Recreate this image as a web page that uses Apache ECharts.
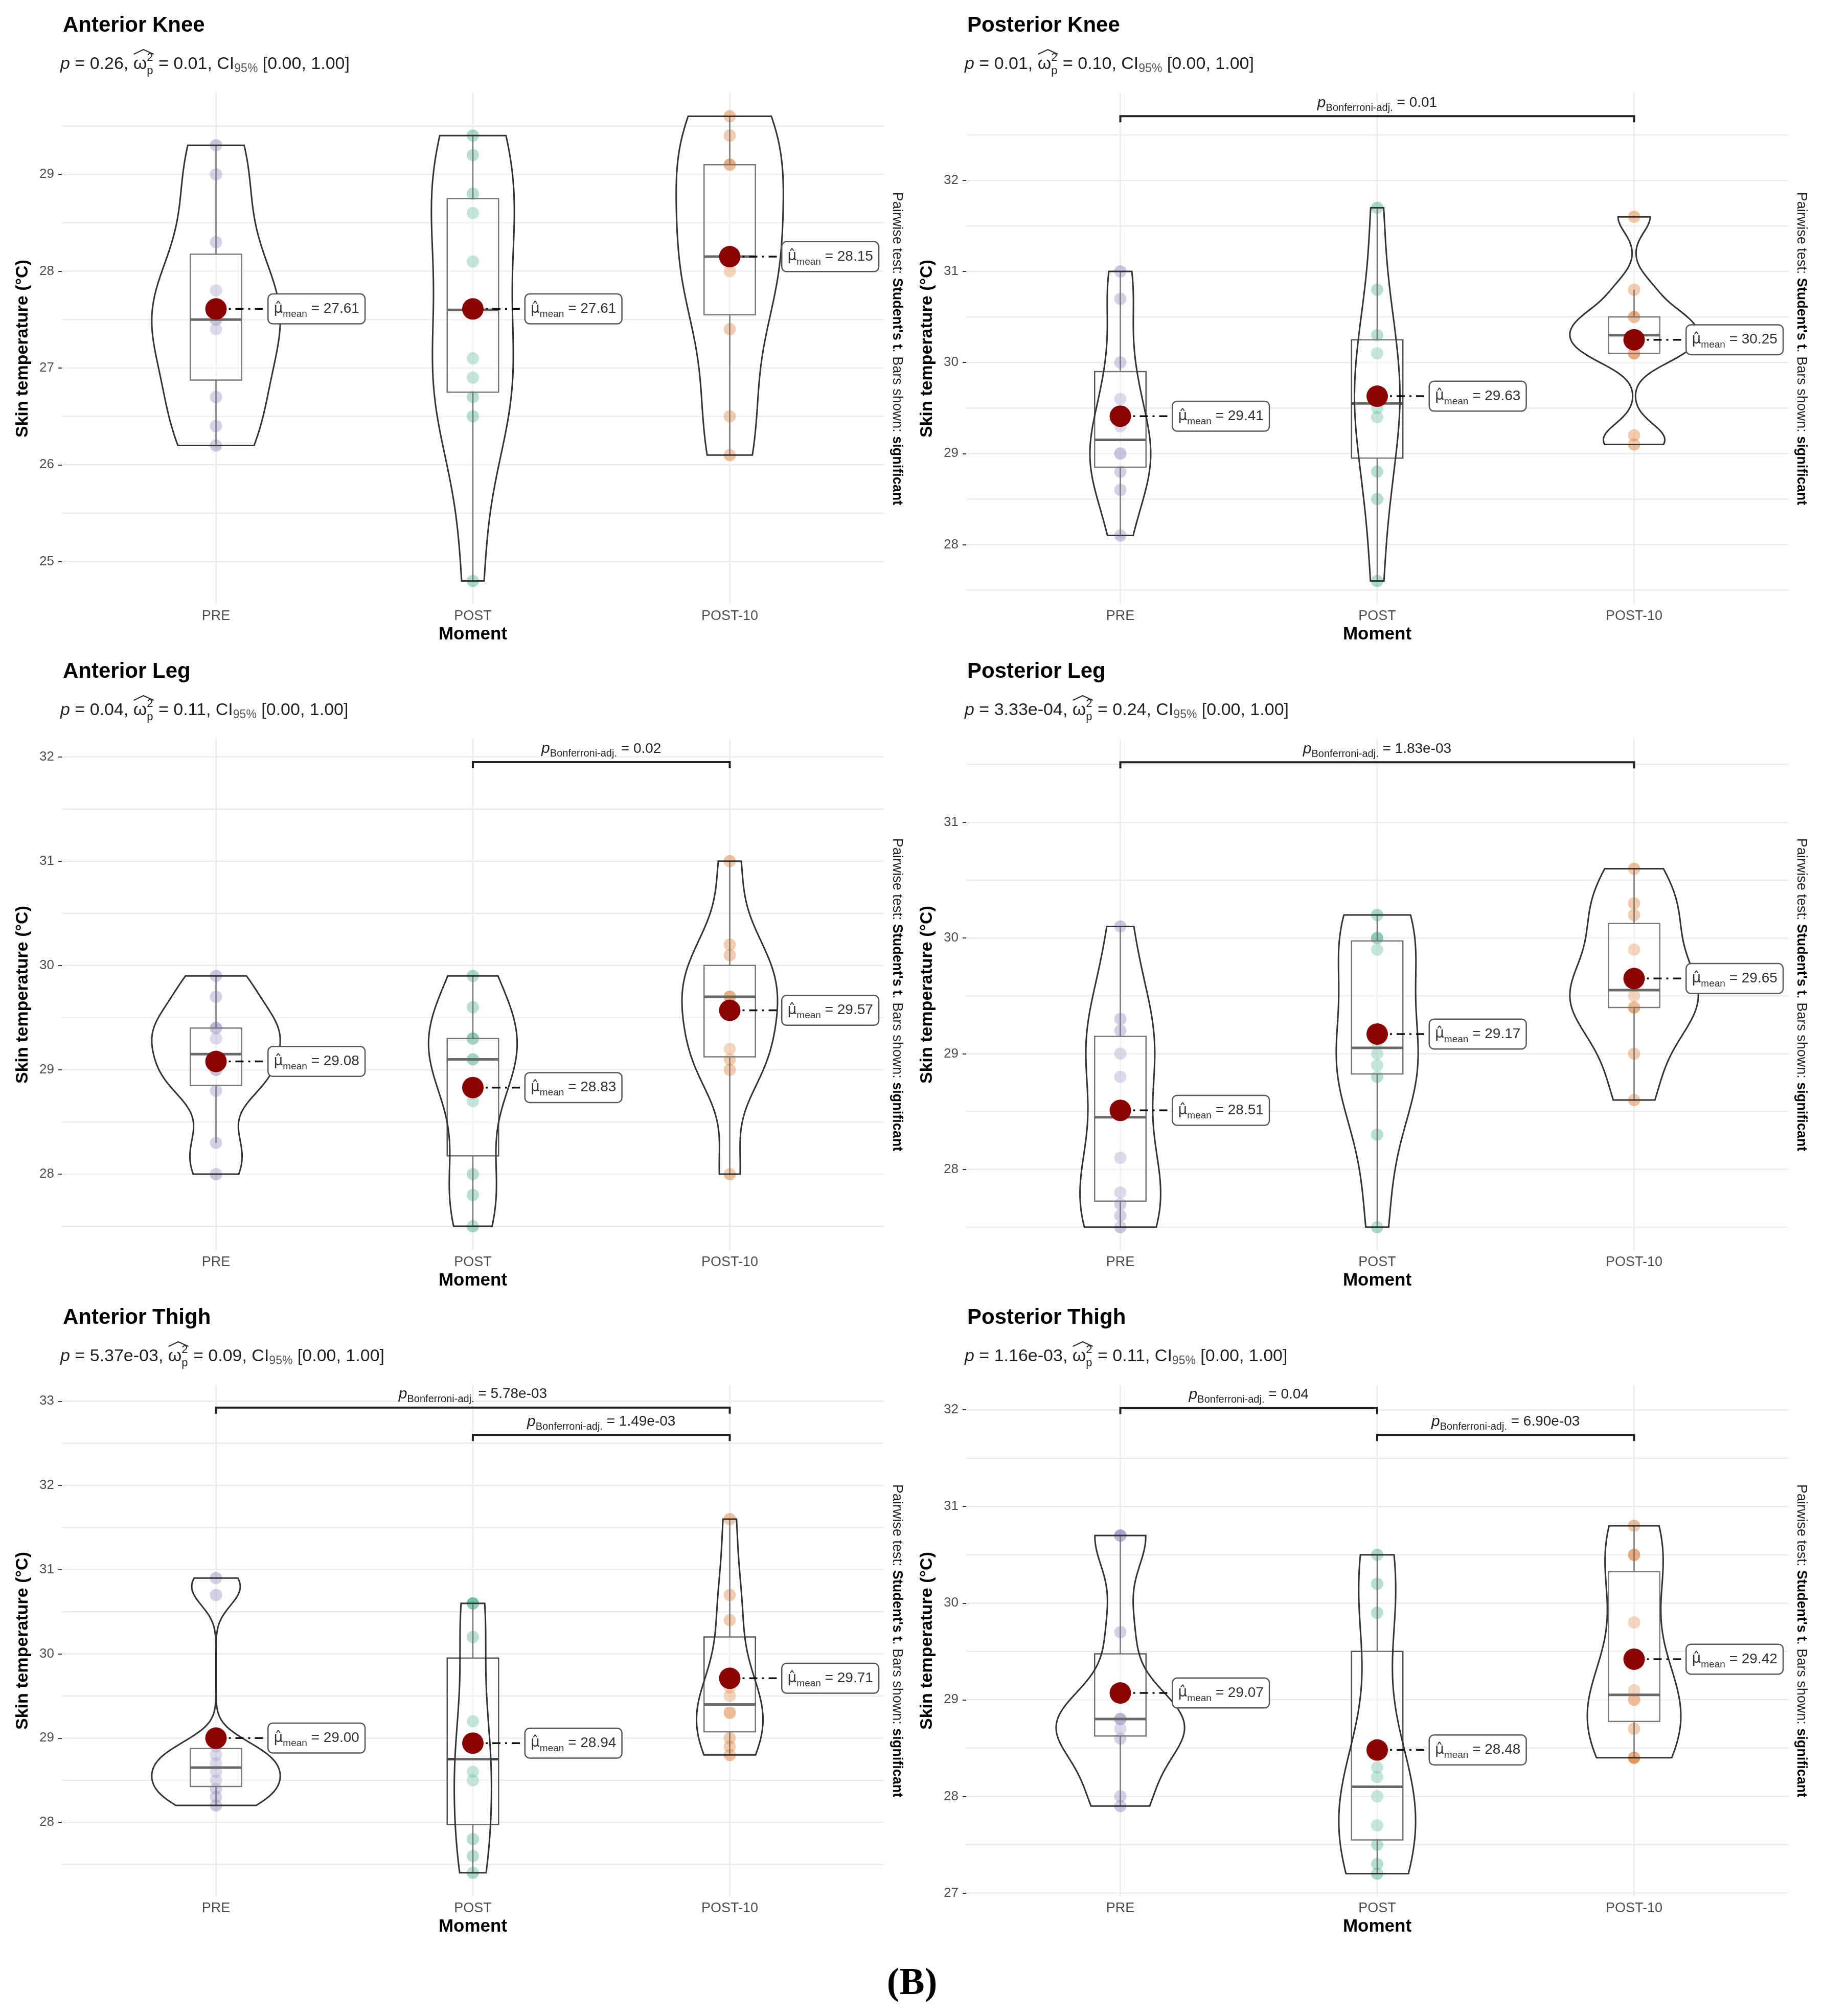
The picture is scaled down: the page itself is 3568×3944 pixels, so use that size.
<!DOCTYPE html>
<html><head><meta charset="utf-8">
<script src="https://cdn.jsdelivr.net/npm/echarts@6/dist/echarts.min.js"></script>
<style>html,body{margin:0;padding:0;background:#fff}#c{width:3568px;height:3944px}</style>
</head><body><div id="c"></div><script>
// ---------------- DATA ----------------
const categories = ['PRE', 'POST', 'POST-10'];
const panelTitles = ['Anterior Knee', 'Posterior Knee', 'Anterior Leg', 'Posterior Leg', 'Anterior Thigh', 'Posterior Thigh'];
const pValues = ['0.26', '0.01', '0.04', '3.33e-04', '5.37e-03', '1.16e-03'];
const omegaValues = ['0.01', '0.10', '0.11', '0.24', '0.09', '0.11'];
const ciText = '[0.00, 1.00]';

const antKneePre    = [26.2, 26.4, 26.7, 27.4, 27.5, 27.5, 27.8, 28.3, 29.0, 29.3];
const antKneePost   = [24.8, 26.5, 26.7, 26.9, 27.1, 28.1, 28.6, 28.8, 29.2, 29.4];
const antKneePost10 = [26.1, 26.5, 27.4, 28.0, 28.1, 28.2, 29.1, 29.1, 29.4, 29.6];

const postKneePre    = [28.1, 28.6, 28.8, 29.0, 29.0, 29.3, 29.6, 30.0, 30.7, 31.0];
const postKneePost   = [27.6, 28.5, 28.8, 29.4, 29.5, 29.6, 30.1, 30.3, 30.8, 31.7];
const postKneePost10 = [29.1, 29.2, 30.1, 30.1, 30.3, 30.3, 30.5, 30.5, 30.8, 31.6];

const antLegPre    = [28.0, 28.3, 28.8, 29.0, 29.0, 29.3, 29.4, 29.4, 29.7, 29.9];
const antLegPost   = [27.5, 27.8, 28.0, 28.7, 29.1, 29.1, 29.3, 29.3, 29.6, 29.9];
const antLegPost10 = [28.0, 29.0, 29.1, 29.2, 29.7, 29.7, 29.7, 30.1, 30.2, 31.0];

const postLegPre    = [27.5, 27.6, 27.7, 27.8, 28.1, 28.8, 29.0, 29.2, 29.3, 30.1];
const postLegPost   = [27.5, 28.3, 28.8, 28.9, 29.0, 29.1, 29.9, 30.0, 30.0, 30.2];
const postLegPost10 = [28.6, 29.0, 29.4, 29.4, 29.5, 29.6, 29.9, 30.2, 30.3, 30.6];

const antThighPre    = [28.2, 28.3, 28.4, 28.5, 28.6, 28.7, 28.8, 28.9, 30.7, 30.9];
const antThighPost   = [27.4, 27.6, 27.8, 28.5, 28.6, 28.9, 29.2, 30.2, 30.6, 30.6];
const antThighPost10 = [28.8, 28.9, 29.0, 29.3, 29.3, 29.5, 29.6, 30.4, 30.7, 31.6];

const postThighPre    = [27.9, 28.0, 28.6, 28.7, 28.8, 28.8, 28.8, 29.7, 30.7, 30.7];
const postThighPost   = [27.2, 27.3, 27.5, 27.7, 28.0, 28.2, 28.3, 29.9, 30.2, 30.5];
const postThighPost10 = [28.4, 28.4, 28.7, 29.0, 29.0, 29.1, 29.8, 30.5, 30.5, 30.8];

const yTicks = [
  [25, 26, 27, 28, 29],
  [28, 29, 30, 31, 32],
  [28, 29, 30, 31, 32],
  [28, 29, 30, 31],
  [28, 29, 30, 31, 32, 33],
  [27, 28, 29, 30, 31, 32]
];
const yLimits = [[24.56, 29.84], [27.345, 32.96], [27.27, 32.17], [27.30, 31.72], [27.12, 33.19], [26.965, 32.255]];

const bracketPairs = [[], [[1, 3]], [[2, 3]], [[1, 3]], [[1, 3], [2, 3]], [[1, 2], [2, 3]]];
const bracketP     = [[], ['0.01'], ['0.02'], ['1.83e-03'], ['5.78e-03', '1.49e-03'], ['0.04', '6.90e-03']];
const bracketY     = [[], [32.706], [31.95], [31.52], [32.925, 32.6], [32.02, 31.74]];

// ---------------- LAYOUT / STYLE ----------------
const FONT = '"Liberation Sans", Arial, Helvetica, sans-serif';
const groupColors = ['#7570B3', '#1B9E77', '#D95F02'];
const PANEL_X = [0, 1769];
const ROW_Y = [0, 1264, 2528];
const PLOT = { left: 121, top: 182, width: 1608, height: 1000 };

const panelData = [
  [antKneePre, antKneePost, antKneePost10],
  [postKneePre, postKneePost, postKneePost10],
  [antLegPre, antLegPost, antLegPost10],
  [postLegPre, postLegPost, postLegPost10],
  [antThighPre, antThighPost, antThighPost10],
  [postThighPre, postThighPost, postThighPost10]
];

// ---------------- HELPERS ----------------
const mctx = document.createElement('canvas').getContext('2d');
function tw(text, size, style) { mctx.font = (style || 'normal') + ' normal ' + size + 'px ' + FONT; return mctx.measureText(text).width; }
function q7(s, p) { const h = (s.length - 1) * p; const lo = Math.floor(h); const hi = Math.min(lo + 1, s.length - 1); return s[lo] + (h - lo) * (s[hi] - s[lo]); }
function meanOf(a) { return a.reduce((x, y) => x + y, 0) / a.length; }
function boxStats(a) {
  const s = a.slice().sort((x, y) => x - y);
  const q1 = q7(s, 0.25), med = q7(s, 0.5), q3 = q7(s, 0.75), iqr = q3 - q1;
  const lo = s.find(v => v >= q1 - 1.5 * iqr), hi = s.slice().reverse().find(v => v <= q3 + 1.5 * iqr);
  return [lo, q1, med, q3, hi];
}
function bwNrd0(a) {
  const s = a.slice().sort((x, y) => x - y), n = s.length, m = meanOf(s);
  const sd = Math.sqrt(s.reduce((t, v) => t + (v - m) * (v - m), 0) / (n - 1));
  const iqr = q7(s, 0.75) - q7(s, 0.25);
  let lo = Math.min(sd, iqr / 1.34); if (!lo) lo = sd || 1;
  return 0.9 * lo * Math.pow(n, -0.2);
}
function kde(a) {
  const bw = bwNrd0(a), n = a.length, mn = Math.min(...a), mx = Math.max(...a);
  const ys = [], ds = [], N = 256;
  for (let k = 0; k < N; k++) {
    const y = mn + (mx - mn) * k / (N - 1);
    let d = 0; for (const v of a) { const z = (y - v) / bw; d += Math.exp(-0.5 * z * z); }
    ys.push(y); ds.push(d / (n * bw * Math.sqrt(2 * Math.PI)));
  }
  return { ys, ds };
}
function subtitleEls(x0, yc, p, om) {
  const els = []; let x = x0;
  const put = (t, size, o) => {
    o = o || {};
    els.push({ type: 'text', x: x, y: yc + (o.dy || 0), style: { text: t, fontSize: size, fontStyle: o.italic ? 'italic' : 'normal', fontFamily: FONT, fill: o.fill || '#222', align: 'left', verticalAlign: 'middle' } });
    return tw(t, size, o.italic ? 'italic' : 'normal');
  };
  x += put('p', 34, { italic: true });
  x += put(' = ' + p + ', ', 34);
  const wx = x;
  x += put('ω', 34);
  const sw = Math.max(put('2', 22, { dy: -13 }), put('p', 22, { dy: 13 }));
  x += sw + 1;
  els.push({ type: 'polyline', shape: { points: [[wx + 1, yc - 20], [(wx + x) / 2, yc - 29], [x, yc - 20]] }, style: { stroke: '#333', lineWidth: 2.2, fill: 'none' } });
  x += put(' = ' + om + ', CI', 34);
  x += put('95%', 23, { dy: 9, fill: '#555' });
  put(' ' + ciText, 34);
  return els;
}

// ---------------- BUILD OPTION ----------------
const grids = [], xAxes = [], yAxes = [], series = [], graphics = [];

const meanRich = {
  mu: { fontSize: 28, lineHeight: 40, fontFamily: '"DejaVu Sans", sans-serif', fill: '#333' },
  sub: { fontSize: 19, lineHeight: 20, verticalAlign: 'bottom', fontFamily: FONT, fill: '#333' },
  eq: { fontSize: 28, lineHeight: 40, fontFamily: FONT, fill: '#333' }
};
const brRich = {
  i: { fontSize: 30, lineHeight: 40, fontStyle: 'italic', fontFamily: FONT, fill: '#222' },
  sub: { fontSize: 20, lineHeight: 20, verticalAlign: 'bottom', fontFamily: FONT, fill: '#222' },
  t: { fontSize: 28, lineHeight: 40, fontFamily: FONT, fill: '#222' }
};

panelData.forEach((groups, i) => {
  const px = PANEL_X[i % 2], ry = ROW_Y[Math.floor(i / 2)];
  const lim = yLimits[i];
  grids.push({ left: px + PLOT.left, top: ry + PLOT.top, width: PLOT.width, height: PLOT.height });
  xAxes.push({
    type: 'value', gridIndex: i, min: 0.4, max: 3.6,
    axisLine: { show: false }, splitLine: { show: false }, axisTick: { show: false },
    axisLabel: { customValues: [1, 2, 3], formatter: v => categories[Math.round(v) - 1] || '', fontSize: 27, color: '#4D4D4D', fontFamily: FONT, margin: 10 }
  });
  yAxes.push({
    type: 'value', gridIndex: i, min: lim[0], max: lim[1],
    axisLine: { show: false }, splitLine: { show: false },
    axisTick: { show: true, customValues: yTicks[i], length: 7, lineStyle: { color: '#333', width: 2 } },
    axisLabel: { customValues: yTicks[i], fontSize: 26, color: '#4D4D4D', fontFamily: FONT, margin: 15 }
  });

  // grid lines
  const gl = [];
  for (let v = Math.ceil(lim[0] * 2) / 2; v <= lim[1] + 1e-9; v += 0.5) gl.push([0, v]);
  [1, 2, 3].forEach(x => gl.push([1, x]));
  series.push({
    type: 'custom', xAxisIndex: i, yAxisIndex: i, z: 1, silent: true, data: gl,
    renderItem: (params, api) => {
      const kind = api.value(0), v = api.value(1);
      const a = kind === 0 ? api.coord([0.4, v]) : api.coord([v, lim[1]]);
      const b = kind === 0 ? api.coord([3.6, v]) : api.coord([v, lim[0]]);
      return { type: 'line', shape: { x1: a[0], y1: a[1], x2: b[0], y2: b[1] }, style: { stroke: '#EBEBEB', lineWidth: 2.5 } };
    }
  });

  // raw points
  const pts = [];
  groups.forEach((arr, g) => arr.forEach(v => pts.push({ value: [g + 1, v], itemStyle: { color: groupColors[g], opacity: 0.4 } })));
  series.push({ type: 'scatter', xAxisIndex: i, yAxisIndex: i, z: 2, silent: true, symbolSize: 24, data: pts });

  // boxes
  series.push({
    type: 'custom', xAxisIndex: i, yAxisIndex: i, z: 3, silent: true,
    data: groups.map((arr, g) => [g + 1].concat(boxStats(arr))),
    renderItem: (params, api) => {
      const x = api.value(0), lo = api.value(1), q1 = api.value(2), med = api.value(3), q3 = api.value(4), hi = api.value(5);
      const tl = api.coord([x - 0.1, q3]), br = api.coord([x + 0.1, q1]);
      const mL = api.coord([x - 0.1, med]), mR = api.coord([x + 0.1, med]);
      const c3 = api.coord([x, q3]), cHi = api.coord([x, hi]), c1 = api.coord([x, q1]), cLo = api.coord([x, lo]);
      return { type: 'group', children: [
        { type: 'line', shape: { x1: c3[0], y1: c3[1], x2: cHi[0], y2: cHi[1] }, style: { stroke: '#555', lineWidth: 2.5 } },
        { type: 'line', shape: { x1: c1[0], y1: c1[1], x2: cLo[0], y2: cLo[1] }, style: { stroke: '#555', lineWidth: 2.5 } },
        { type: 'rect', shape: { x: tl[0], y: tl[1], width: br[0] - tl[0], height: br[1] - tl[1] }, style: { fill: 'rgba(255,255,255,0.2)', stroke: '#555', lineWidth: 2.5 } },
        { type: 'line', shape: { x1: mL[0], y1: mL[1], x2: mR[0], y2: mR[1] }, style: { stroke: '#444', lineWidth: 5 } }
      ] };
    }
  });

  // violins (scale = area)
  const dens = groups.map(kde);
  const dmax = Math.max(...dens.map(d => Math.max(...d.ds)));
  series.push({
    type: 'custom', xAxisIndex: i, yAxisIndex: i, z: 4, silent: true,
    data: groups.map((arr, g) => [g + 1, g]),
    renderItem: (params, api) => {
      const xc = api.value(0), d = dens[api.value(1)];
      const L = [], R = [];
      for (let k = 0; k < d.ys.length; k++) {
        const hw = 0.25 * d.ds[k] / dmax;
        L.push(api.coord([xc - hw, d.ys[k]]));
        R.push(api.coord([xc + hw, d.ys[k]]));
      }
      return { type: 'polygon', shape: { points: L.concat(R.reverse()) }, style: { fill: 'rgba(255,255,255,0.2)', stroke: '#333', lineWidth: 3 } };
    }
  });

  // means + labels
  series.push({
    type: 'custom', xAxisIndex: i, yAxisIndex: i, z: 5, silent: true,
    data: groups.map((arr, g) => [g + 1, meanOf(arr)]),
    renderItem: (params, api) => {
      const x = api.value(0), m = api.value(1);
      const c = api.coord([x, m]), l = api.coord([x + 0.205, m]);
      return { type: 'group', children: [
        { type: 'line', shape: { x1: c[0], y1: c[1], x2: l[0], y2: l[1] }, style: { stroke: '#111', lineWidth: 3.5, lineDash: [16, 9, 4, 9] } },
        { type: 'circle', shape: { cx: c[0], cy: c[1], r: 21 }, style: { fill: '#8B0000' } },
        { type: 'text', x: l[0], y: l[1], style: {
          text: '{mu|μ̂}{sub|mean}{eq| = ' + m.toFixed(2) + '}', rich: meanRich,
          align: 'left', verticalAlign: 'middle', backgroundColor: '#fff', borderColor: '#555', borderWidth: 2.5, borderRadius: 8, padding: [8, 10, 8, 10]
        } }
      ] };
    }
  });

  // significance brackets
  if (bracketPairs[i].length) {
    series.push({
      type: 'custom', xAxisIndex: i, yAxisIndex: i, z: 5, silent: true,
      data: bracketPairs[i].map((p, k) => [p[0], p[1], bracketY[i][k], k]),
      renderItem: (params, api) => {
        const x1 = api.value(0), x2 = api.value(1), y = api.value(2), k = api.value(3);
        const tip = 0.012 * (lim[1] - lim[0]);
        const a = api.coord([x1, y]), b = api.coord([x2, y]), a2 = api.coord([x1, y - tip]), b2 = api.coord([x2, y - tip]);
        const mid = api.coord([(x1 + x2) / 2, y]);
        return { type: 'group', children: [
          { type: 'polyline', shape: { points: [a2, a, b, b2] }, style: { stroke: '#222', lineWidth: 4, fill: 'none' } },
          { type: 'text', x: mid[0], y: mid[1] - 6, style: {
            text: '{i|p}{sub|Bonferroni-adj.}{t| = ' + bracketP[i][k] + '}', rich: brRich, align: 'center', verticalAlign: 'bottom'
          } }
        ] };
      }
    });
  }

  // texts
  graphics.push({ type: 'text', x: px + 123, y: ry + 50, style: { text: panelTitles[i], fontSize: 42, fontWeight: 'bold', fontFamily: FONT, fill: '#000', align: 'left', verticalAlign: 'middle' } });
  subtitleEls(px + 118, ry + 126, pValues[i], omegaValues[i]).forEach(e => graphics.push(e));
  graphics.push({ type: 'text', x: px + 45, y: ry + 682, rotation: Math.PI / 2, style: { text: 'Skin temperature (°C)', fontSize: 34, fontWeight: 'bold', fontFamily: FONT, fill: '#000', align: 'center', verticalAlign: 'middle' } });
  graphics.push({ type: 'text', x: px + 925, y: ry + 1241, style: { text: 'Moment', fontSize: 35, fontWeight: 'bold', fontFamily: FONT, fill: '#000', align: 'center', verticalAlign: 'middle' } });
  graphics.push({ type: 'text', x: px + 1754, y: ry + 682, rotation: -Math.PI / 2, style: {
    text: '{n|Pairwise test: }{b|Student\'s t}{n|. Bars shown: }{b|significant}', align: 'center', verticalAlign: 'middle',
    rich: {
      n: { fontSize: 27, fontFamily: FONT, fill: '#222' },
      b: { fontSize: 27, fontWeight: 'bold', fontFamily: FONT, fill: '#000' }
    }
  } });
});

graphics.push({ type: 'text', x: 1784, y: 3882, style: { text: '(B)', fontSize: 74, fontWeight: 'bold', fontFamily: '"Liberation Serif", "Times New Roman", serif', fill: '#000', align: 'center', verticalAlign: 'middle' } });

const chart = echarts.init(document.getElementById('c'), null, { width: 3568, height: 3944 });
chart.setOption({
  backgroundColor: '#fff',
  animation: false,
  grid: grids, xAxis: xAxes, yAxis: yAxes, series: series,
  graphic: { elements: graphics }
});
</script></body></html>
